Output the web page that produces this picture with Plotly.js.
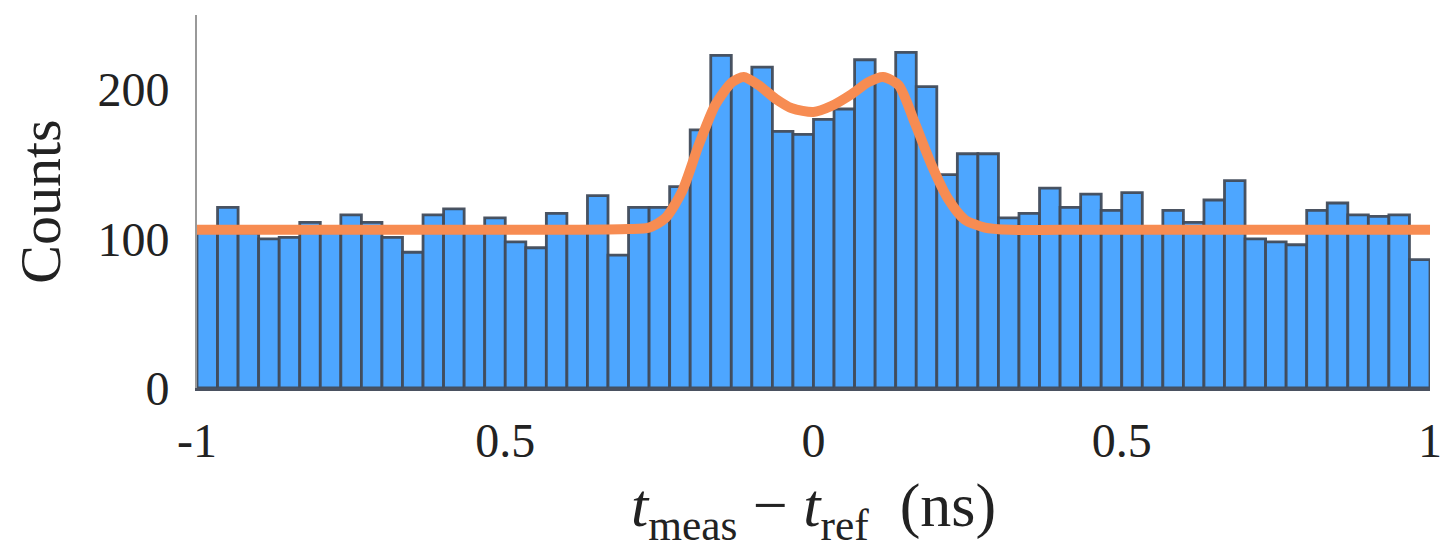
<!DOCTYPE html>
<html>
<head>
<meta charset="utf-8">
<script src="https://cdn.plot.ly/plotly-3.0.1.min.js"></script>
<style>html,body{margin:0;padding:0;background:#fff;}#chart{width:1442px;height:550px;}</style>
</head>
<body>
<div id="chart"></div>
<script>
// Histogram: 60 bins from -1 to 1 ns
const binStart = -1;
const binWidth = 1 / 30;
const counts = [
  105, 121, 104, 100, 101, 111, 107, 116, 111, 101,
  91, 116, 120, 106, 114, 98, 94, 117, 107, 129,
  89, 121, 121, 135, 173, 223, 208, 215, 172, 170,
  180, 187, 220, 208, 225, 202, 143, 157, 157, 114,
  117, 134, 121, 130, 119, 131, 105, 119, 111, 126,
  139, 100, 98, 96, 119, 124, 116, 115, 116, 86
];
// Fit curve
const fitX = [-1, -0.40, -0.30, -0.267, -0.240, -0.213, -0.186, -0.159, -0.132, -0.113, -0.089, -0.062, -0.035, 0, 0.029, 0.062, 0.089, 0.113, 0.138, 0.165, 0.191, 0.218, 0.245, 0.278, 0.32, 0.40, 1];
const fitY = [106, 106, 106.5, 107.5, 114, 132, 163, 190, 205, 208.5, 203, 194, 187.5, 185, 189, 197, 205, 208.5, 203, 177, 150, 127, 113, 107.5, 106, 106, 106];
// Tick labels
const xTickVals = [-1, -0.5, 0, 0.5, 1];
const xTickText = ["-1", "0.5", "0", "0.5", "1"];
const yTickVals = [0, 100, 200];
const yTickText = ["0", "100", "200"];

const binCenters = counts.map((_, i) => binStart + (i + 0.5) * binWidth);

const traces = [
  {
    type: 'bar',
    x: binCenters,
    y: counts,
    width: binWidth,
    marker: { color: '#4DA6FF', line: { color: 'rgba(65,75,90,0.95)', width: 2.8 } },
    hoverinfo: 'x+y'
  },
  {
    type: 'scatter',
    mode: 'lines',
    x: fitX,
    y: fitY,
    line: { color: '#F78C52', width: 10, shape: 'spline', smoothing: 0.7 }
  }
];

const layout = {
  width: 1442,
  height: 550,
  margin: { l: 197, r: 12, t: 15, b: 162 },
  paper_bgcolor: '#fff',
  plot_bgcolor: '#fff',
  showlegend: false,
  bargap: 0,
  font: { family: 'Liberation Serif, serif', color: '#222' },
  xaxis: {
    range: [-1.000001, 1.000001],
    tickvals: xTickVals,
    ticktext: xTickText,
    ticks: '',
    ticklabelstandoff: 8,
    ticklabeloverflow: 'allow',
    showgrid: false,
    zeroline: false,
    showline: true,
    linecolor: '#4a5160',
    linewidth: 3,
    tickfont: { size: 48, family: 'Liberation Serif, serif', color: '#222' },
    title: {
      text: '<i>t</i><sub>meas</sub> − <i>t</i><sub>ref</sub>  (ns)',
      font: { size: 62, family: 'Liberation Serif, serif', color: '#222' },
      standoff: 18
    },
    automargin: false
  },
  yaxis: {
    range: [0, 250],
    tickvals: yTickVals,
    ticktext: yTickText,
    ticks: '',
    ticklabelstandoff: 16,
    ticklabeloverflow: 'allow',
    showgrid: false,
    zeroline: false,
    showline: true,
    linecolor: '#999',
    linewidth: 2,
    tickfont: { size: 48, family: 'Liberation Serif, serif', color: '#222' },
    title: {
      text: 'Counts',
      font: { size: 58, family: 'Liberation Serif, serif', color: '#222' },
      standoff: 18
    },
    automargin: false
  }
};

Plotly.newPlot('chart', traces, layout, { displayModeBar: false, staticPlot: true });
</script>
</body>
</html>
